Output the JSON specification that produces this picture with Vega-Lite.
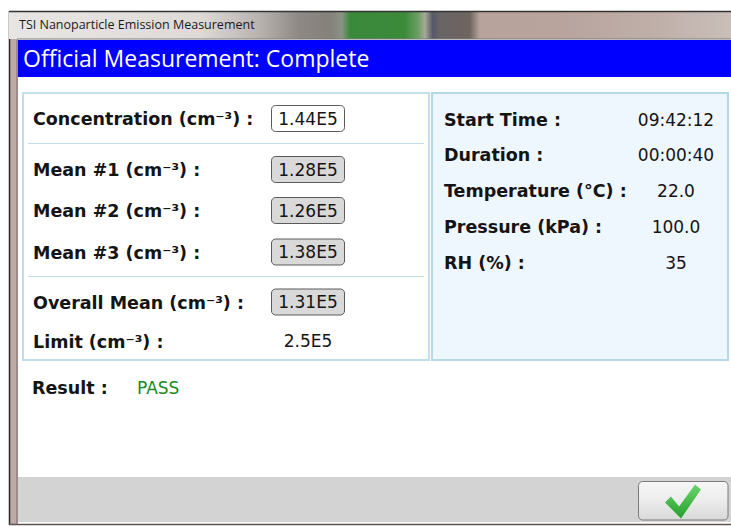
{
  "$schema": "https://vega.github.io/schema/vega-lite/v6.json",
  "width": 731,
  "height": 527,
  "autosize": {"type": "none"},
  "padding": 0,
  "background": "#FFFFFF",
  "config": {"view": {"stroke": null}},
  "resolve": {"scale": {"y": "independent"}},
  "layer": [
    {
      "data": {"values": [{"window": "TSI Nanoparticle Emission Measurement", "header": "Official Measurement: Complete", "resultLabel": "Result :", "result": "PASS"}]},
      "layer": [
        {"mark": {"type": "rect", "fill": "#BCAAA6"},
         "encoding": {"x": {"datum": 9, "scale": {"domain": [0, 731], "range": [0, 731], "nice": false, "zero": false}, "axis": null}, "x2": {"datum": 18},
                      "y": {"datum": 11, "scale": {"domain": [0, 527], "range": [0, 527], "nice": false, "zero": false}, "axis": null}, "y2": {"datum": 525}}},
        {"mark": {"type": "rule", "color": "#2B2828", "strokeWidth": 1.5},
         "encoding": {"x": {"datum": 9.5, "scale": {"domain": [0, 731], "range": [0, 731], "nice": false, "zero": false}, "axis": null},
                      "y": {"datum": 11, "scale": {"domain": [0, 527], "range": [0, 527], "nice": false, "zero": false}, "axis": null}, "y2": {"datum": 525}}},
        {"mark": {"type": "rule", "color": "#7A6E6C", "strokeWidth": 1},
         "encoding": {"x": {"datum": 17, "scale": {"domain": [0, 731], "range": [0, 731], "nice": false, "zero": false}, "axis": null},
                      "y": {"datum": 40, "scale": {"domain": [0, 527], "range": [0, 527], "nice": false, "zero": false}, "axis": null}, "y2": {"datum": 524}}},
        {"mark": {"type": "rect", "fill": {"gradient": "linear", "x1": 0, "y1": 0, "x2": 1, "y2": 0, "stops": [
            {"offset": 0, "color": "#E8E6E4"},
            {"offset": 0.265, "color": "#DEDAD6"},
            {"offset": 0.348, "color": "#B8B2AE"},
            {"offset": 0.403, "color": "#8E8884"},
            {"offset": 0.445, "color": "#84807A"},
            {"offset": 0.461, "color": "#8A9284"},
            {"offset": 0.472, "color": "#3A8A3C"},
            {"offset": 0.548, "color": "#3C8A3A"},
            {"offset": 0.567, "color": "#6E9E66"},
            {"offset": 0.576, "color": "#A6AA98"},
            {"offset": 0.587, "color": "#555868"},
            {"offset": 0.597, "color": "#6A6466"},
            {"offset": 0.638, "color": "#6E6460"},
            {"offset": 0.652, "color": "#B8A29C"},
            {"offset": 0.763, "color": "#B8A39D"},
            {"offset": 0.888, "color": "#BFAEA8"},
            {"offset": 1, "color": "#C9BEB9"}]}},
         "encoding": {"x": {"datum": 9, "scale": {"domain": [0, 731], "range": [0, 731], "nice": false, "zero": false}, "axis": null}, "x2": {"datum": 731},
                      "y": {"datum": 11, "scale": {"domain": [0, 527], "range": [0, 527], "nice": false, "zero": false}, "axis": null}, "y2": {"datum": 39}}},
        {"mark": {"type": "rule", "color": "#333333", "strokeWidth": 1.5},
         "encoding": {"x": {"datum": 9, "scale": {"domain": [0, 731], "range": [0, 731], "nice": false, "zero": false}, "axis": null}, "x2": {"datum": 731},
                      "y": {"datum": 11.5, "scale": {"domain": [0, 527], "range": [0, 527], "nice": false, "zero": false}, "axis": null}}},
        {"mark": {"type": "rule", "color": "#7A7A7A", "strokeWidth": 1},
         "encoding": {"x": {"datum": 17, "scale": {"domain": [0, 731], "range": [0, 731], "nice": false, "zero": false}, "axis": null}, "x2": {"datum": 731},
                      "y": {"datum": 39, "scale": {"domain": [0, 527], "range": [0, 527], "nice": false, "zero": false}, "axis": null}}},
        {"mark": {"type": "text", "align": "left", "baseline": "middle", "font": "Open Sans", "fontSize": 12.5, "color": "#1A1A1A"},
         "encoding": {"x": {"datum": 19, "scale": {"domain": [0, 731], "range": [0, 731], "nice": false, "zero": false}, "axis": null},
                      "y": {"datum": 25, "scale": {"domain": [0, 527], "range": [0, 527], "nice": false, "zero": false}, "axis": null},
                      "text": {"field": "window"}}},
        {"mark": {"type": "rect", "fill": "#0000FF"},
         "encoding": {"x": {"datum": 18, "scale": {"domain": [0, 731], "range": [0, 731], "nice": false, "zero": false}, "axis": null}, "x2": {"datum": 731},
                      "y": {"datum": 40, "scale": {"domain": [0, 527], "range": [0, 527], "nice": false, "zero": false}, "axis": null}, "y2": {"datum": 77}}},
        {"mark": {"type": "text", "align": "left", "baseline": "middle", "font": "Open Sans", "fontSize": 23, "color": "#FFFFFF"},
         "encoding": {"x": {"datum": 23, "scale": {"domain": [0, 731], "range": [0, 731], "nice": false, "zero": false}, "axis": null},
                      "y": {"datum": 60, "scale": {"domain": [0, 527], "range": [0, 527], "nice": false, "zero": false}, "axis": null},
                      "text": {"field": "header"}}},
        {"mark": {"type": "rect", "fill": "#FFFFFF", "stroke": "#C0DFEA", "strokeWidth": 2},
         "encoding": {"x": {"datum": 23, "scale": {"domain": [0, 731], "range": [0, 731], "nice": false, "zero": false}, "axis": null}, "x2": {"datum": 429},
                      "y": {"datum": 93, "scale": {"domain": [0, 527], "range": [0, 527], "nice": false, "zero": false}, "axis": null}, "y2": {"datum": 360}}},
        {"mark": {"type": "rect", "fill": "#EEF6FE", "stroke": "#B3D9E6", "strokeWidth": 2},
         "encoding": {"x": {"datum": 432, "scale": {"domain": [0, 731], "range": [0, 731], "nice": false, "zero": false}, "axis": null}, "x2": {"datum": 728},
                      "y": {"datum": 93, "scale": {"domain": [0, 527], "range": [0, 527], "nice": false, "zero": false}, "axis": null}, "y2": {"datum": 360}}},
        {"mark": {"type": "rule", "color": "#C2E0EB", "strokeWidth": 1},
         "encoding": {"x": {"datum": 28, "scale": {"domain": [0, 731], "range": [0, 731], "nice": false, "zero": false}, "axis": null}, "x2": {"datum": 424},
                      "y": {"datum": 143.5, "scale": {"domain": [0, 527], "range": [0, 527], "nice": false, "zero": false}, "axis": null}}},
        {"mark": {"type": "rule", "color": "#C2E0EB", "strokeWidth": 1},
         "encoding": {"x": {"datum": 28, "scale": {"domain": [0, 731], "range": [0, 731], "nice": false, "zero": false}, "axis": null}, "x2": {"datum": 424},
                      "y": {"datum": 276.5, "scale": {"domain": [0, 527], "range": [0, 527], "nice": false, "zero": false}, "axis": null}}},
        {"mark": {"type": "text", "align": "left", "baseline": "middle", "dy": 1.5, "font": "DejaVu Sans", "fontWeight": "bold", "fontSize": 17.5, "color": "#141414"},
         "encoding": {"x": {"datum": 32, "scale": {"domain": [0, 731], "range": [0, 731], "nice": false, "zero": false}, "axis": null},
                      "y": {"datum": 387, "scale": {"domain": [0, 527], "range": [0, 527], "nice": false, "zero": false}, "axis": null},
                      "text": {"field": "resultLabel"}}},
        {"mark": {"type": "text", "align": "left", "baseline": "middle", "dy": 1.5, "font": "DejaVu Sans", "fontSize": 17, "color": "#1A8A1A"},
         "encoding": {"x": {"datum": 137, "scale": {"domain": [0, 731], "range": [0, 731], "nice": false, "zero": false}, "axis": null},
                      "y": {"datum": 387, "scale": {"domain": [0, 527], "range": [0, 527], "nice": false, "zero": false}, "axis": null},
                      "text": {"field": "result"}}},
        {"mark": {"type": "rect", "fill": "#D3D3D3"},
         "encoding": {"x": {"datum": 18, "scale": {"domain": [0, 731], "range": [0, 731], "nice": false, "zero": false}, "axis": null}, "x2": {"datum": 731},
                      "y": {"datum": 477, "scale": {"domain": [0, 527], "range": [0, 527], "nice": false, "zero": false}, "axis": null}, "y2": {"datum": 522}}},
        {"mark": {"type": "rule", "color": "#5E5250", "strokeWidth": 1.5},
         "encoding": {"x": {"datum": 9, "scale": {"domain": [0, 731], "range": [0, 731], "nice": false, "zero": false}, "axis": null}, "x2": {"datum": 731},
                      "y": {"datum": 524.5, "scale": {"domain": [0, 527], "range": [0, 527], "nice": false, "zero": false}, "axis": null}}},
        {"mark": {"type": "rect", "cornerRadius": 4, "stroke": "#7A7A7A", "strokeWidth": 1, "fill": {"gradient": "linear", "x1": 0, "y1": 0, "x2": 0, "y2": 1, "stops": [{"offset": 0, "color": "#F6F6F6"}, {"offset": 0.5, "color": "#ECECEC"}, {"offset": 1, "color": "#D8D8D8"}]}},
         "encoding": {"x": {"datum": 638.5, "scale": {"domain": [0, 731], "range": [0, 731], "nice": false, "zero": false}, "axis": null}, "x2": {"datum": 728},
                      "y": {"datum": 481.5, "scale": {"domain": [0, 527], "range": [0, 527], "nice": false, "zero": false}, "axis": null}, "y2": {"datum": 520}}},
        {"mark": {"type": "point", "filled": true, "size": 1296, "opacity": 1, "strokeWidth": 0,
                  "shape": "M -1 0.11 L -0.67 -0.22 L -0.22 0.33 L 0.67 -0.89 L 1 -0.61 L -0.11 1 Z",
                  "fill": {"gradient": "linear", "x1": 0, "y1": 0, "x2": 0, "y2": 1, "stops": [{"offset": 0, "color": "#6ED46E"}, {"offset": 1, "color": "#23A02A"}]}},
         "encoding": {"x": {"datum": 683, "scale": {"domain": [0, 731], "range": [0, 731], "nice": false, "zero": false}, "axis": null},
                      "y": {"datum": 500.5, "scale": {"domain": [0, 527], "range": [0, 527], "nice": false, "zero": false}, "axis": null}}}
      ]
    },
    {
      "data": {"values": [
        {"label": "Concentration (cm⁻³) :", "value": "1.44E5", "box": "input", "line": 1},
        {"label": "Mean #1 (cm⁻³) :", "value": "1.28E5", "box": "readout", "line": 2},
        {"label": "Mean #2 (cm⁻³) :", "value": "1.26E5", "box": "readout", "line": 3},
        {"label": "Mean #3 (cm⁻³) :", "value": "1.38E5", "box": "readout", "line": 4},
        {"label": "Overall Mean (cm⁻³) :", "value": "1.31E5", "box": "readout", "line": 5},
        {"label": "Limit (cm⁻³) :", "value": "2.5E5", "box": "none", "line": 6}
      ]},
      "encoding": {"y": {"field": "line", "type": "quantitative", "scale": {"domain": [1, 2, 3, 4, 5, 6], "range": [118.5, 169.5, 210.5, 252, 302, 341], "nice": false, "zero": false}, "axis": null}},
      "layer": [
        {"transform": [{"filter": "datum.box !== 'none'"}],
         "mark": {"type": "rect", "yOffset": -13, "y2Offset": 13, "cornerRadius": 4, "stroke": "#5A5A5A", "strokeWidth": 1},
         "encoding": {"x": {"datum": 271.5, "scale": {"domain": [0, 731], "range": [0, 731], "nice": false, "zero": false}, "axis": null}, "x2": {"datum": 344.5},
                      "y2": {"field": "line"},
                      "fill": {"field": "box", "type": "nominal", "scale": {"domain": ["input", "readout"], "range": ["#FFFFFF", "#D9D9D9"]}, "legend": null}}},
        {"mark": {"type": "text", "align": "left", "baseline": "middle", "dy": 1.5, "font": "DejaVu Sans", "fontWeight": "bold", "fontSize": 17.5, "color": "#141414"},
         "encoding": {"x": {"datum": 33, "scale": {"domain": [0, 731], "range": [0, 731], "nice": false, "zero": false}, "axis": null},
                      "text": {"field": "label"}}},
        {"mark": {"type": "text", "align": "center", "baseline": "middle", "dy": 1, "font": "DejaVu Sans", "fontSize": 17, "color": "#141414"},
         "encoding": {"x": {"datum": 308, "scale": {"domain": [0, 731], "range": [0, 731], "nice": false, "zero": false}, "axis": null},
                      "text": {"field": "value"}}}
      ]
    },
    {
      "data": {"values": [
        {"label": "Start Time :", "value": "09:42:12", "line": 1},
        {"label": "Duration :", "value": "00:00:40", "line": 2},
        {"label": "Temperature (°C) :", "value": "22.0", "line": 3},
        {"label": "Pressure (kPa) :", "value": "100.0", "line": 4},
        {"label": "RH (%) :", "value": "35", "line": 5}
      ]},
      "encoding": {"y": {"field": "line", "type": "quantitative", "scale": {"domain": [1, 5], "range": [119, 262], "nice": false, "zero": false}, "axis": null}},
      "layer": [
        {"mark": {"type": "text", "align": "left", "baseline": "middle", "dy": 1.5, "font": "DejaVu Sans", "fontWeight": "bold", "fontSize": 17.5, "color": "#141414"},
         "encoding": {"x": {"datum": 444, "scale": {"domain": [0, 731], "range": [0, 731], "nice": false, "zero": false}, "axis": null},
                      "text": {"field": "label"}}},
        {"mark": {"type": "text", "align": "center", "baseline": "middle", "dy": 1.5, "font": "DejaVu Sans", "fontSize": 17, "color": "#141414"},
         "encoding": {"x": {"datum": 676, "scale": {"domain": [0, 731], "range": [0, 731], "nice": false, "zero": false}, "axis": null},
                      "text": {"field": "value"}}}
      ]
    }
  ]
}
